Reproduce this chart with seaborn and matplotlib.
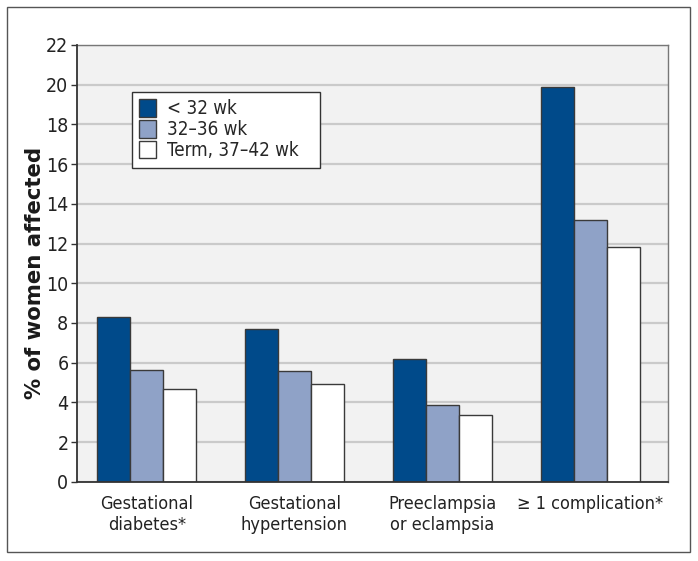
import pandas as pd
import seaborn as sns
import matplotlib.pyplot as plt
from matplotlib.patches import Rectangle

# Data
categories = ["Gestational\ndiabetes*", "Gestational\nhypertension",
              "Preeclampsia\nor eclampsia", "\u2265 1 complication*"]
groups = ["< 32 wk", "32\u201336 wk", "Term, 37\u201342 wk"]
lt32 = [8.3, 7.7, 6.2, 19.9]
wk32_36 = [5.65, 5.6, 3.85, 13.2]
term = [4.7, 4.95, 3.35, 11.8]

rows = []
for g, vals in zip(groups, [lt32, wk32_36, term]):
    for c, v in zip(categories, vals):
        rows.append({"Complication": c, "Group": g, "Value": v})
df = pd.DataFrame(rows)

palette = {groups[0]: "#004a8a", groups[1]: "#8fa2c7", groups[2]: "#ffffff"}

sns.set_style("white")
plt.rcParams["font.family"] = ["DejaVu Sans"]
plt.rcParams["font.stretch"] = "condensed"

fig = plt.figure(figsize=(6.98, 5.61), dpi=100)
ax = fig.add_axes([0.110, 0.141, 0.847, 0.779])

sns.barplot(data=df, x="Complication", y="Value", hue="Group", order=categories,
            hue_order=groups, palette=palette, saturation=1, width=0.67, gap=0,
            edgecolor="#3a3a3a", linewidth=1.0, errorbar=None, ax=ax, zorder=3)

ax.set_facecolor("#f2f2f2")
ax.set_ylim(0, 22)
ax.set_xlim(-0.473, 3.527)
ax.set_yticks(range(0, 23, 2))
ax.yaxis.grid(True, color="#cacaca", linewidth=1.6, zorder=0)
ax.set_axisbelow(True)

for side in ["left", "bottom"]:
    ax.spines[side].set_color("#333333")
    ax.spines[side].set_linewidth(1.3)
    ax.spines[side].set_zorder(4)
for side in ["top", "right"]:
    ax.spines[side].set_color("#777777")
    ax.spines[side].set_linewidth(1.0)

ax.tick_params(axis="y", left=True, length=4, width=1, color="#333333",
               labelsize=14, labelcolor="#222222", pad=2)
ax.tick_params(axis="x", bottom=False, labelsize=13, labelcolor="#222222", pad=6)
ax.set_xlabel("")
ax.set_ylabel("% of women affected", fontsize=15.3, fontweight="bold",
              fontstretch="normal", color="#1a1a1a")
ax.yaxis.set_label_coords(-0.054, 0.478)

leg = ax.legend(loc="upper left", bbox_to_anchor=(0.093, 0.7, 0.318, 0.193),
                mode="expand", fontsize=13.5,
                frameon=True, fancybox=False, edgecolor="#333333",
                handlelength=0.9, handleheight=1.05, handletextpad=0.6,
                labelspacing=0.1, borderpad=0.4, borderaxespad=0)
leg.get_frame().set_linewidth(1.0)
leg.get_frame().set_facecolor("white")
leg.get_frame().set_alpha(1)

# outer frame around the figure
fig.patches.append(Rectangle((0.010, 0.016), 0.979, 0.972, transform=fig.transFigure,
                             fill=False, edgecolor="#555555", linewidth=1.0))

fig.savefig("out.png", dpi=100)
